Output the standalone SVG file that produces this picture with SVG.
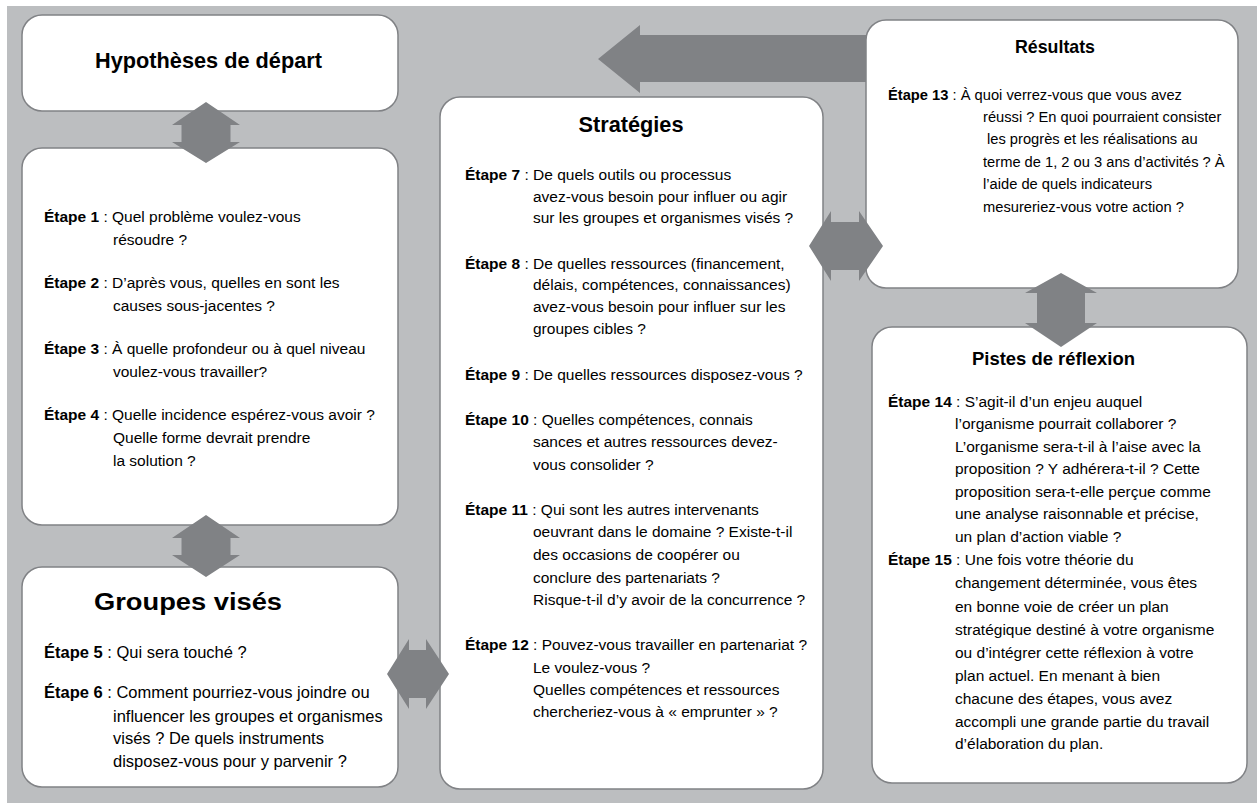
<svg xmlns="http://www.w3.org/2000/svg" width="1257" height="809" viewBox="0 0 1257 809">
<style>
.box{fill:#ffffff;stroke:#808285;stroke-width:1.5}
.arr{fill:#808285;stroke:none}
text{font-family:"Liberation Sans",Arial,sans-serif;fill:#000000}
.title{font-weight:bold;text-anchor:middle}
.b{font-weight:bold}
.t{font-size:15.5px}
.g{font-size:16.5px}
.r{font-size:14.7px}
</style>
<rect x="0" y="0" width="1257" height="809" fill="#ffffff"/>
<rect x="7" y="6" width="1250" height="797" fill="#bcbec0"/>

<g id="hypotheses">
<rect class="box" x="22" y="15" width="376" height="96" rx="20"/>
<text class="title" x="208.5" y="68" font-size="22" textLength="227" lengthAdjust="spacingAndGlyphs">Hypothèses de départ</text>
</g>

<g id="etapes-1-4">
<rect class="box" x="22" y="148" width="376" height="377" rx="20"/>
<g class="t">
<text x="44" y="222"><tspan class="b">Étape 1</tspan> : Quel problème voulez-vous</text>
<text x="113" y="245">résoudre ?</text>
<text x="44" y="288"><tspan class="b">Étape 2</tspan> : D’après vous, quelles en sont les</text>
<text x="113" y="311">causes sous-jacentes ?</text>
<text x="44" y="354"><tspan class="b">Étape 3</tspan> : À quelle profondeur ou à quel niveau</text>
<text x="113" y="377">voulez-vous travailler?</text>
<text x="44" y="420"><tspan class="b">Étape 4</tspan> : Quelle incidence espérez-vous avoir ?</text>
<text x="113" y="443">Quelle forme devrait prendre</text>
<text x="113" y="466">la solution ?</text>
</g>
</g>

<g id="groupes-vises">
<rect class="box" x="22" y="567" width="376" height="220" rx="20"/>
<text class="title" x="188" y="610" font-size="23" textLength="188" lengthAdjust="spacingAndGlyphs">Groupes visés</text>
<g class="g">
<text x="44" y="658"><tspan class="b">Étape 5</tspan> : Qui sera touché ?</text>
<text x="44" y="698"><tspan class="b">Étape 6</tspan> : Comment pourriez-vous joindre ou</text>
<text x="113" y="722">influencer les groupes et organismes</text>
<text x="113" y="744">visés ? De quels instruments</text>
<text x="113" y="767">disposez-vous pour y parvenir ?</text>
</g>
</g>

<g id="strategies">
<rect class="box" x="440" y="97" width="383" height="692" rx="20"/>
<text class="title" x="631" y="132" font-size="22" textLength="105" lengthAdjust="spacingAndGlyphs">Stratégies</text>
<g class="t">
<text x="465" y="180"><tspan class="b">Étape 7</tspan> : De quels outils ou processus</text>
<text x="533" y="202">avez-vous besoin pour influer ou agir</text>
<text x="533" y="223">sur les groupes et organismes visés ?</text>
<text x="465" y="269"><tspan class="b">Étape 8</tspan> : De quelles ressources (financement,</text>
<text x="533" y="290">délais, compétences, connaissances)</text>
<text x="533" y="312">avez-vous besoin pour influer sur les</text>
<text x="533" y="334">groupes cibles ?</text>
<text x="465" y="380"><tspan class="b">Étape 9</tspan> : De quelles ressources disposez-vous ?</text>
<text x="465" y="425"><tspan class="b">Étape 10</tspan> : Quelles compétences, connais</text>
<text x="533" y="447">sances et autres ressources devez-</text>
<text x="533" y="470">vous consolider ?</text>
<text x="465" y="515"><tspan class="b">Étape 11</tspan> : Qui sont les autres intervenants</text>
<text x="533" y="537">oeuvrant dans le domaine ? Existe-t-il</text>
<text x="533" y="560">des occasions de coopérer ou</text>
<text x="533" y="583">conclure des partenariats ?</text>
<text x="533" y="605">Risque-t-il d’y avoir de la concurrence ?</text>
<text x="465" y="650"><tspan class="b">Étape 12</tspan> : Pouvez-vous travailler en partenariat ?</text>
<text x="533" y="673">Le voulez-vous ?</text>
<text x="533" y="695">Quelles compétences et ressources</text>
<text x="533" y="717">chercheriez-vous à « emprunter » ?</text>
</g>
</g>

<g id="resultats">
<rect class="box" x="866" y="20" width="372" height="268" rx="20"/>
<text class="title" x="1055" y="53" font-size="19" textLength="80" lengthAdjust="spacingAndGlyphs">Résultats</text>
<g class="r">
<text x="888" y="100"><tspan class="b">Étape 13</tspan> : À quoi verrez-vous que vous avez</text>
<text x="983" y="122">réussi ? En quoi pourraient consister</text>
<text x="987" y="144">les progrès et les réalisations au</text>
<text x="983" y="167">terme de 1, 2 ou 3 ans d’activités ? À</text>
<text x="983" y="189">l’aide de quels indicateurs</text>
<text x="983" y="212">mesureriez-vous votre action ?</text>
</g>
</g>

<g id="pistes-de-reflexion">
<rect class="box" x="872" y="327" width="375" height="456" rx="20"/>
<text class="title" x="1053.5" y="365" font-size="19" textLength="163" lengthAdjust="spacingAndGlyphs">Pistes de réflexion</text>
<g class="t">
<text x="888" y="407"><tspan class="b">Étape 14</tspan> : S’agit-il d’un enjeu auquel</text>
<text x="955" y="429">l’organisme pourrait collaborer ?</text>
<text x="955" y="452">L’organisme sera-t-il à l’aise avec la</text>
<text x="955" y="474">proposition ? Y adhérera-t-il ? Cette</text>
<text x="955" y="497">proposition sera-t-elle perçue comme</text>
<text x="955" y="519">une analyse raisonnable et précise,</text>
<text x="955" y="542">un plan d’action viable ?</text>
<text x="888" y="565"><tspan class="b">Étape 15</tspan> : Une fois votre théorie du</text>
<text x="955" y="588">changement déterminée, vous êtes</text>
<text x="955" y="612">en bonne voie de créer un plan</text>
<text x="955" y="635">stratégique destiné à votre organisme</text>
<text x="955" y="658">ou d’intégrer cette réflexion à votre</text>
<text x="955" y="681">plan actuel. En menant à bien</text>
<text x="955" y="704">chacune des étapes, vous avez</text>
<text x="955" y="727">accompli une grande partie du travail</text>
<text x="955" y="749">d’élaboration du plan.</text>
</g>
</g>

<g id="connectors">
<polygon class="arr" points="598,59 640,25 640,35 866,35 866,82 640,82 640,93"/>
<polygon class="arr" points="206,102 240,125 230.5,125 230.5,142 240,142 206,163 172,142 181.5,142 181.5,125 172,125"/>
<polygon class="arr" points="206,515 240,538 230.5,538 230.5,555 240,555 206,577 172,555 181.5,555 181.5,538 172,538"/>
<polygon class="arr" points="387,674 409,639 409,650 426,650 426,639 449,674 426,709 426,698 409,698 409,709"/>
<polygon class="arr" points="809,246 831,211 831,222 859,222 859,211 883,246 859,281 859,270 831,270 831,281"/>
<polygon class="arr" points="1061,273 1097,293 1085,293 1085,323 1097,323 1061,347 1025,323 1037,323 1037,293 1025,293"/>
</g>
</svg>
